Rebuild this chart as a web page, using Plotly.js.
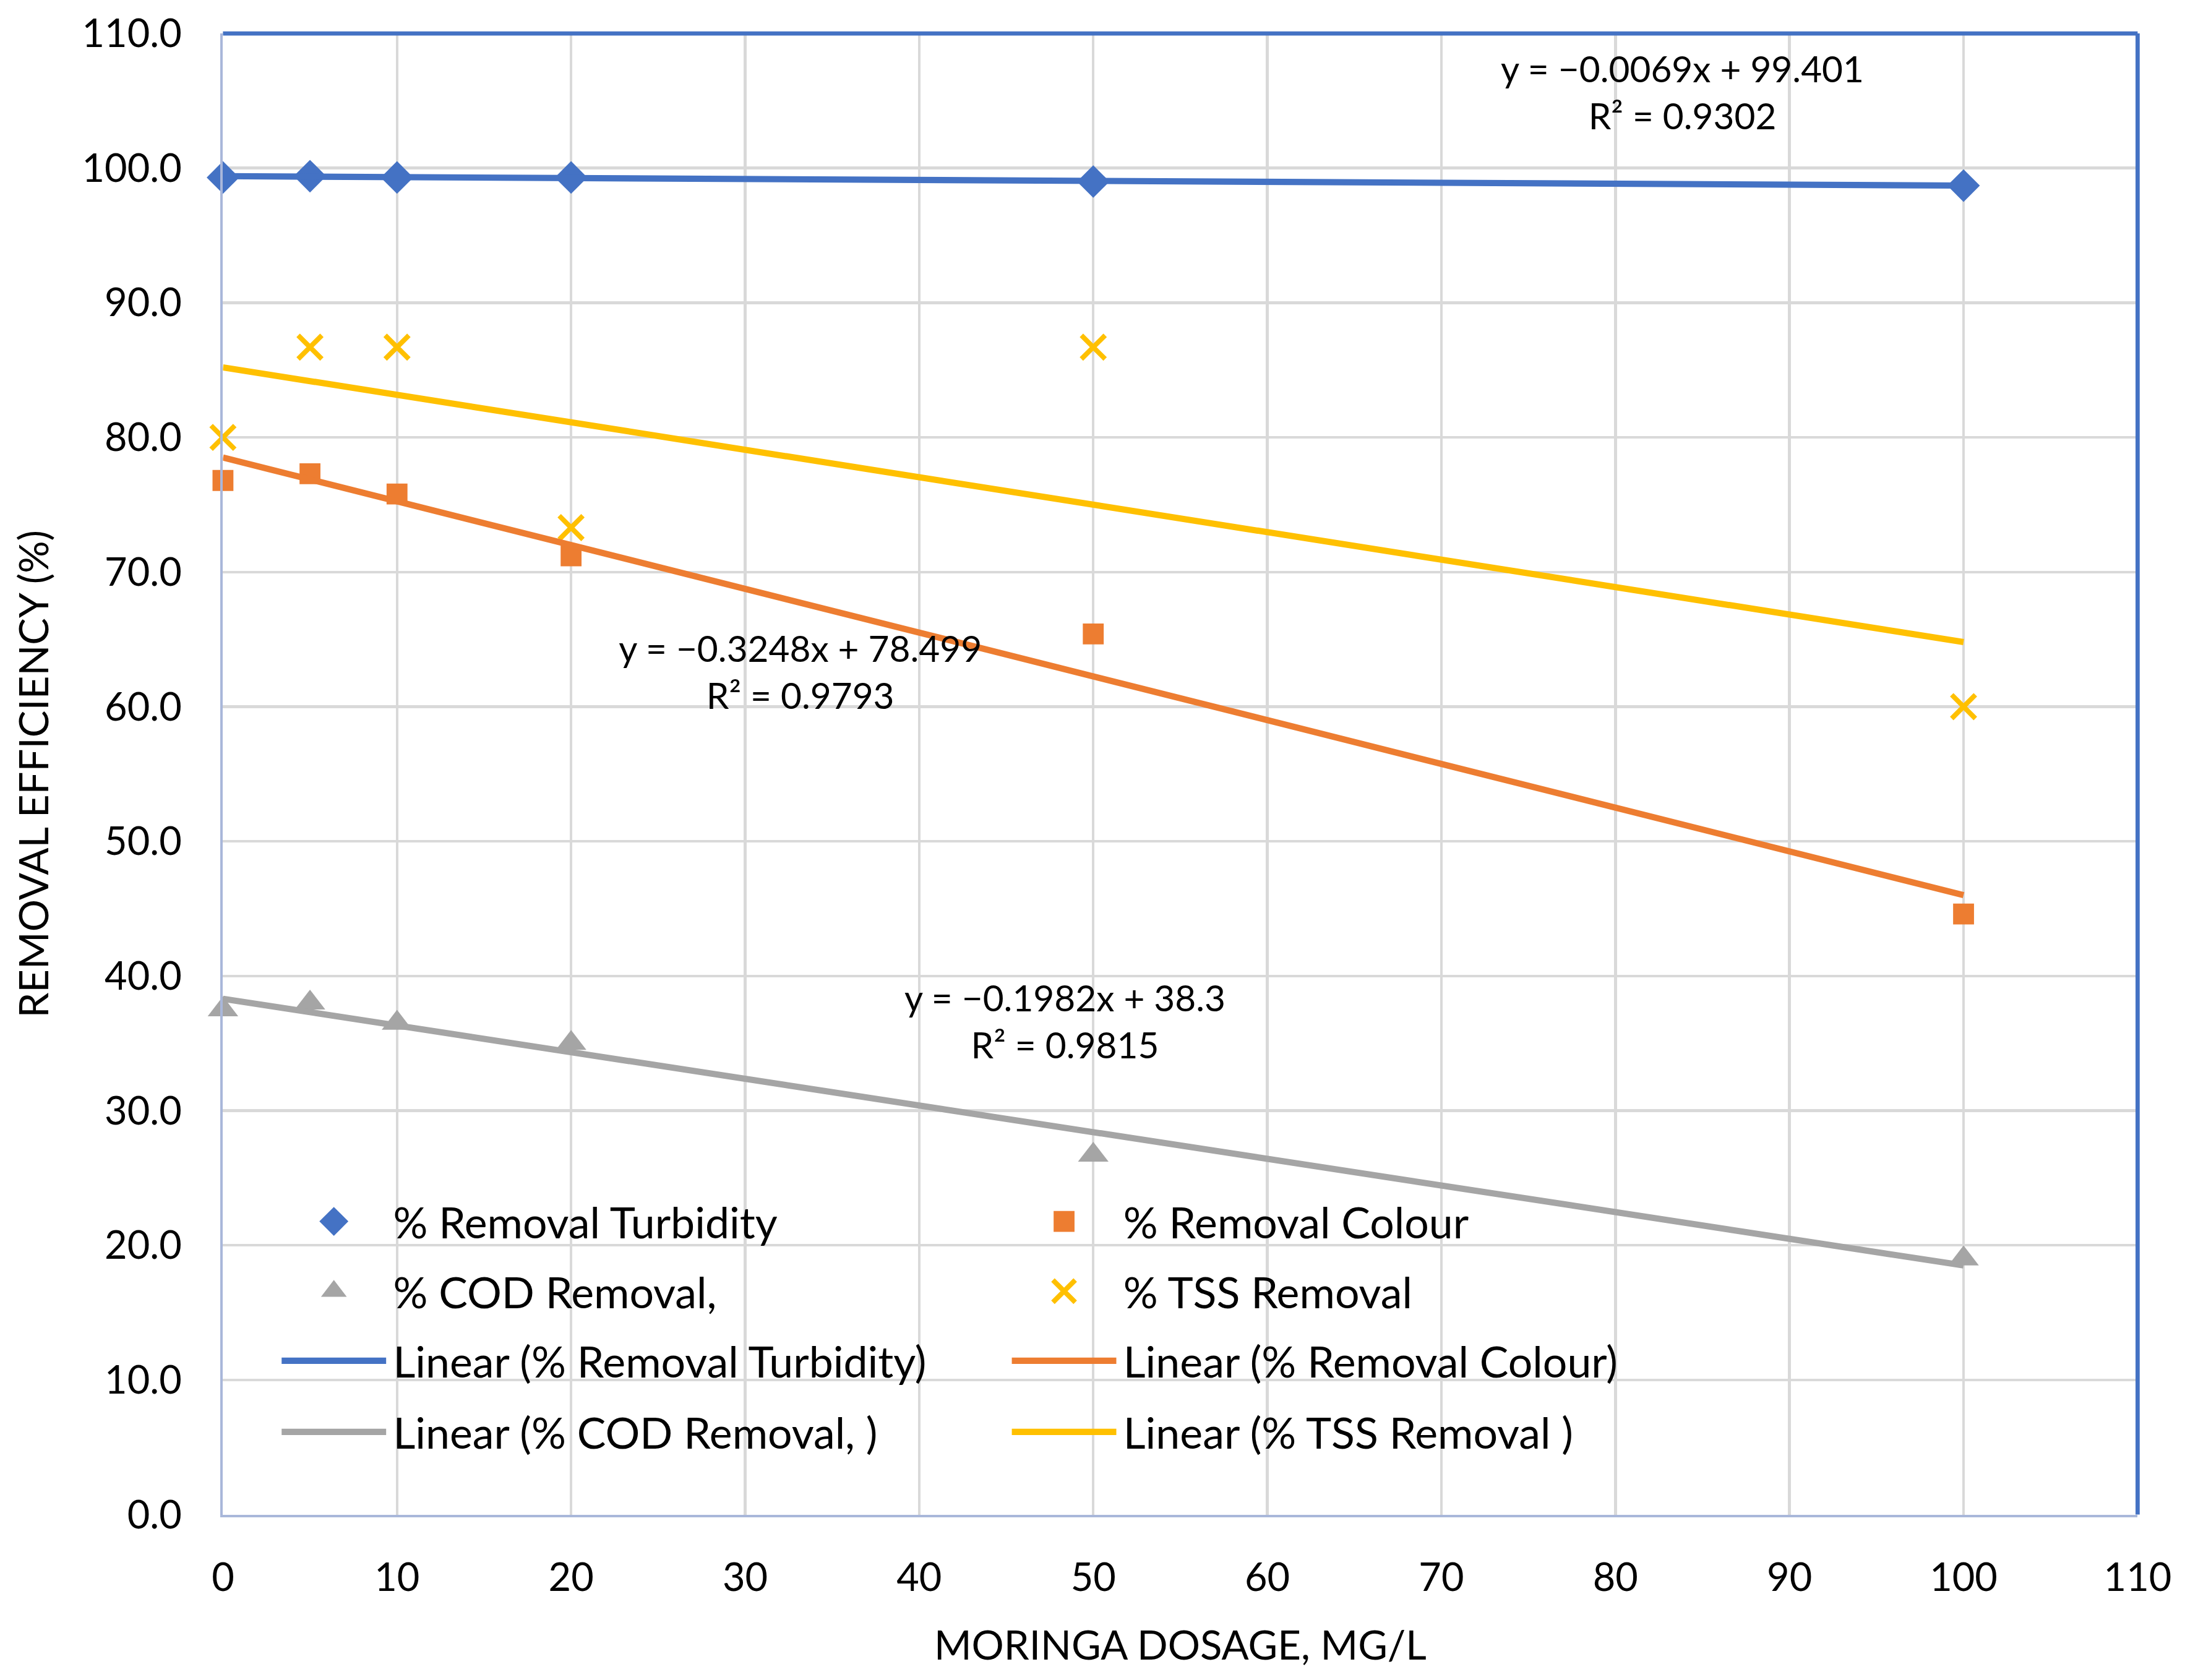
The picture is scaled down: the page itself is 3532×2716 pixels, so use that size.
<!DOCTYPE html>
<html>
<head>
<meta charset="utf-8">
<script src="https://cdn.plot.ly/plotly-3.0.1.min.js"></script>
<style>
  html, body { margin: 0; padding: 0; background: #fff; }
  #page { width: 3532px; height: 2716px; overflow: hidden; position: relative; background: #fff; }
  #chart { position: absolute; left: 0; top: 0; width: 1568px; height: 1206px;
           transform: scale(2.25255); transform-origin: 0 0; }
</style>
</head>
<body>
<div id="page"><div id="chart"></div></div>
<script>
// Moringa dosage vs removal efficiency, with linear trend lines

// ── Data ──────────────────────────────────────────────────────────────────────
const dosage    = [0, 5, 10, 20, 50, 100];
const turbidity = [99.3, 99.4, 99.3, 99.3, 99.0, 98.7];
const colour    = [76.8, 77.3, 75.8, 71.2, 65.4, 44.6];
const cod       = [37.5, 38.0, 36.5, 35.0, 26.7, 19.0];
const tss       = [80.0, 86.7, 86.7, 73.3, 86.7, 60.0];

// trend line end points (x = 0 and x = 100)
const trendX      = [0, 100];
const turbTrend   = [99.4, 98.7];
const colourTrend = [78.5, 46.0];
const codTrend    = [38.3, 18.5];
const tssTrend    = [85.2, 64.8];

const xTicks = [0, 10, 20, 30, 40, 50, 60, 70, 80, 90, 100, 110];
const yTicks = [0, 10, 20, 30, 40, 50, 60, 70, 80, 90, 100, 110];

const BLUE = '#4472C4', ORANGE = '#ED7D31', GREY = '#A5A5A5', GOLD = '#FFC000';
const FONT = 'Lato, "Open Sans", sans-serif';

// ── Traces ────────────────────────────────────────────────────────────────────
// legend is laid out as 4 rows of 2 entries; each row is its own legend box
function points(name, ys, symbol, color, size, lineW, leg) {
  return {
    x: dosage, y: ys, name: name, type: 'scatter', mode: 'markers',
    legend: leg, cliponaxis: false,
    marker: { symbol: symbol, color: color, size: size,
              line: { color: color, width: lineW || 0 } },
  };
}
function trend(name, ys, color, leg) {
  return {
    x: trendX, y: ys, name: name, type: 'scatter', mode: 'lines',
    legend: leg, line: { color: color, width: 4.5 },
  };
}

const traces = [
  points('% Removal Turbidity', turbidity, 'diamond', BLUE, 18, 0, 'legend'),
  points('% Removal Colour', colour, 'square', ORANGE, 15, 0, 'legend'),
  points('% COD Removal,', cod, 'triangle-up', GREY, 19, 0, 'legend2'),
  points('% TSS Removal', tss, 'x-thin-open', GOLD, 17, 3.5, 'legend2'),
  trend('Linear (% Removal Turbidity)', turbTrend, BLUE, 'legend3'),
  trend('Linear (% Removal Colour)', colourTrend, ORANGE, 'legend3'),
  trend('Linear (% COD Removal, )', codTrend, GREY, 'legend4'),
  trend('Linear (% TSS Removal )', tssTrend, GOLD, 'legend4'),
];

// ── Equation labels ───────────────────────────────────────────────────────────
const eqFont = { family: FONT, size: 26, color: '#000' };
function eq(x, y, text) {
  return { x: x, y: y, xref: 'x', yref: 'y', text: text, showarrow: false,
           font: eqFont, align: 'center' };
}

function legendRow(y) {
  return {
    orientation: 'h', x: 0.027, y: y, xanchor: 'left', yanchor: 'middle',
    entrywidth: 434, entrywidthmode: 'pixels', itemwidth: 75,
    bgcolor: 'rgba(0,0,0,0)', font: { family: FONT, size: 31, color: '#000' },
    traceorder: 'normal',
  };
}

const layout = {
  width: 1568, height: 1206,
  paper_bgcolor: '#fff', plot_bgcolor: '#fff',
  font: { family: FONT, size: 28, color: '#000' },
  margin: { l: 160, r: 34, t: 24, b: 119 },
  showlegend: true,
  legend: legendRow(0.1976),
  legend2: legendRow(0.1505),
  legend3: legendRow(0.1035),
  legend4: legendRow(0.0555),
  xaxis: {
    range: [0, 110], tickvals: xTicks, ticktext: xTicks.map(String),
    showgrid: true, gridcolor: '#D9D9D9', gridwidth: 2,
    zeroline: false, showline: true, linecolor: '#A9B7DA', linewidth: 2,
    ticks: '', ticklabelstandoff: 19,
    tickfont: { family: FONT, size: 28, color: '#000' },
    title: { text: 'MORINGA DOSAGE, MG/L', standoff: 24,
             font: { family: FONT, size: 29, color: '#000' } },
  },
  yaxis: {
    range: [0, 110], tickvals: yTicks, ticktext: yTicks.map(v => v.toFixed(1)),
    showgrid: true, gridcolor: '#D9D9D9', gridwidth: 2,
    zeroline: false, showline: true, linecolor: '#A9B7DA', linewidth: 2,
    ticks: '', ticklabelstandoff: 22,
    tickfont: { family: FONT, size: 28, color: '#000' },
    title: { text: 'REMOVAL EFFICIENCY (%)', standoff: 15,
             font: { family: FONT, size: 29, color: '#000' } },
  },
  shapes: [
    { type: 'line', xref: 'paper', yref: 'paper', x0: 0, x1: 1, y0: 1, y1: 1,
      line: { color: BLUE, width: 3 } },
    { type: 'line', xref: 'paper', yref: 'paper', x0: 1, x1: 1, y0: 0, y1: 1,
      line: { color: BLUE, width: 3 } },
  ],
  annotations: [
    eq(83.9, 105.7, 'y = −0.0069x + 99.401<br>R² = 0.9302'),
    eq(33.2, 62.6, 'y = −0.3248x + 78.499<br>R² = 0.9793'),
    eq(48.4, 36.6, 'y = −0.1982x + 38.3<br>R² = 0.9815'),
  ],
};

Plotly.newPlot('chart', traces, layout, { displayModeBar: false, staticPlot: true });
</script>
</body>
</html>
